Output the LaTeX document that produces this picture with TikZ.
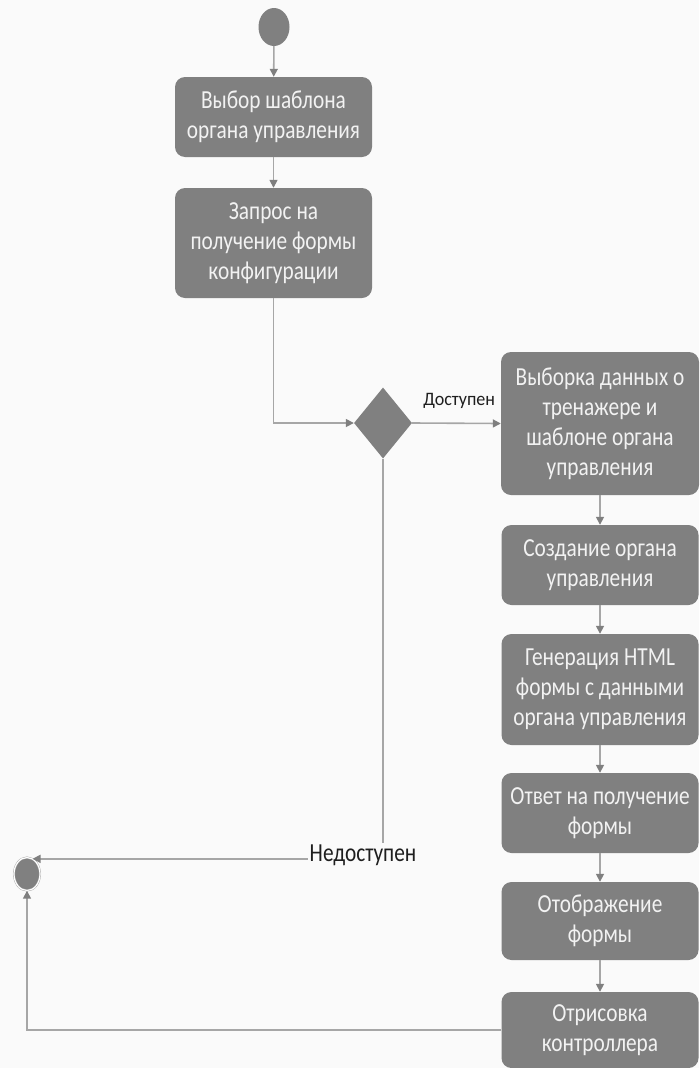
\documentclass[tikz,border=0pt]{standalone}
\usepackage{fontspec}
\setmainfont{Carlito}[FakeStretch=0.82]
\newfontfamily\lblfont{Carlito}[FakeStretch=0.95]
\usetikzlibrary{shapes.geometric,arrows.meta}
\definecolor{bg}{HTML}{FAFAFA}
\definecolor{boxgray}{HTML}{808080}
\definecolor{linegray}{HTML}{A6A6A6}
\definecolor{tipgray}{HTML}{7F7F7F}
\definecolor{txt}{HTML}{F2F2F2}
\definecolor{dark}{HTML}{1E1E1E}
\begin{document}
\begin{tikzpicture}[x=1pt,y=-1pt,
  act/.style={rectangle, rounded corners=10pt, fill=boxgray, text=txt, align=center,
    font=\fontsize{26}{30}\selectfont, minimum width=197pt, inner sep=0pt},
  flow/.style={draw=linegray, line width=1.6pt,
    -{Triangle[width=8pt,length=8pt,color=tipgray]}},
  lblsmall/.style={text=dark, font=\lblfont\fontsize{19}{22}\selectfont, inner sep=1pt},
  lblbig/.style={text=dark, font=\fontsize{26}{30}\selectfont, inner sep=2pt, fill=bg},
]
\fill[bg] (0,0) rectangle (699,1068);
\useasboundingbox (0,0) rectangle (699,1068);

\node[ellipse, fill=boxgray, minimum width=31pt, minimum height=38pt, inner sep=0pt] (start) at (274,27) {};
\node[act, minimum height=80pt] (b1) at (273.5,117) {Выбор шаблона\\органа управления};
\node[act, minimum height=110pt] (b2) at (273.5,243) {Запрос на\\получение формы\\конфигурации};
\node[diamond, fill=boxgray, minimum width=58pt, minimum height=71pt, inner sep=0pt] (dia) at (383,423) {};
\node[act, minimum height=143pt, minimum width=198pt] (b3) at (600,423.5) {Выборка данных о\\тренажере и\\шаблоне органа\\управления};
\node[act, minimum height=80pt] (b4) at (600,565) {Создание органа\\управления};
\node[act, minimum height=111pt] (b5) at (600,689.5) {Генерация HTML\\формы с данными\\органа управления};
\node[act, minimum height=80pt] (b6) at (600,813) {Ответ на получение\\формы};
\node[act, minimum height=78pt] (b7) at (600,921) {Отображение\\формы};
\node[act, minimum height=76pt] (b8) at (600,1030) {Отрисовка\\контроллера};
\node[ellipse, fill=boxgray, draw=linegray, double=white, double distance=1.2pt,
  minimum width=26pt, minimum height=33pt, inner sep=0pt] (end) at (27,874) {};

\draw[flow] (start) -- (b1);
\draw[flow] (b1) -- (b2);
\draw[flow] (b2.south) |- (dia.west);
\draw[flow] (dia.east) -- node[lblsmall, above=13pt, pos=0.53] (dost) {Доступен} (b3.west);
\draw[flow] (b3) -- (b4);
\draw[flow] (b4) -- (b5);
\draw[flow] (b5) -- (b6);
\draw[flow] (b6) -- (b7);
\draw[flow] (b7) -- (b8);
\draw[flow] (dia.south) |- (end.70);
\node[lblbig] (nd) at (363,855) {Недоступен};
\draw[flow] (b8.west) -| (end.south);
\end{tikzpicture}
\end{document}
